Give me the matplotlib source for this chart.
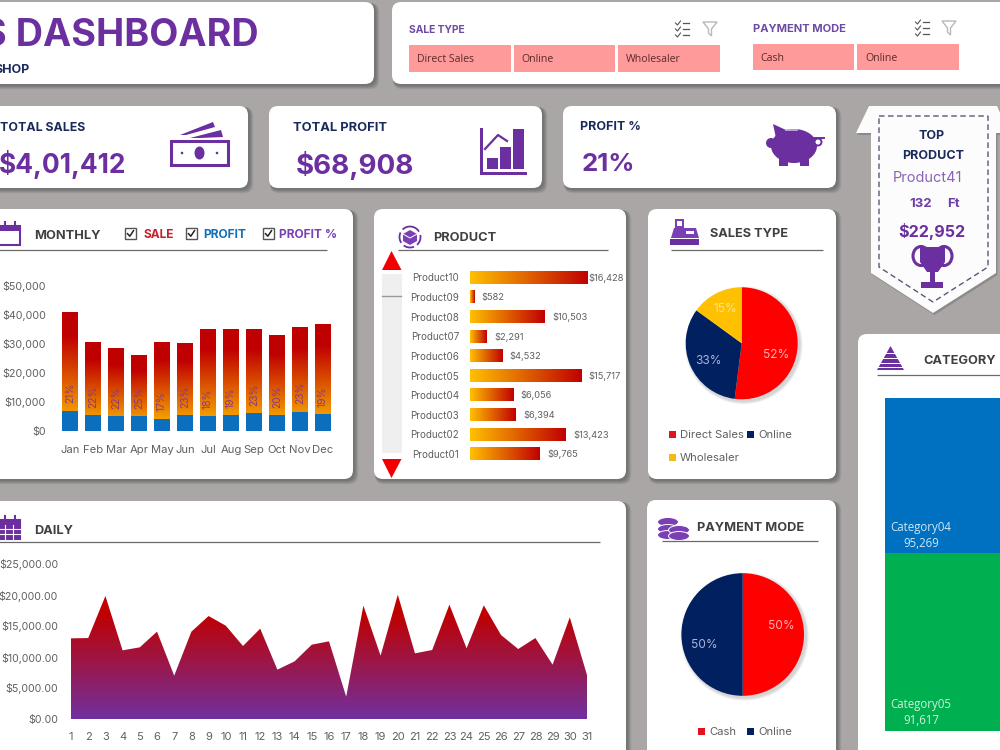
import numpy as np
import matplotlib
matplotlib.use('Agg')
import matplotlib.pyplot as plt
from matplotlib.colors import LinearSegmentedColormap
from matplotlib.patches import Circle, Ellipse, FancyBboxPatch, PathPatch, Polygon, Rectangle

# monthly sales, profit and margin
months = ['Jan', 'Feb', 'Mar', 'Apr', 'May', 'Jun', 'Jul', 'Aug', 'Sep', 'Oct', 'Nov', 'Dec']
monthly_sale = [41000, 30450, 28300, 26200, 30450, 30100, 34900, 35050, 34900, 33100, 35750, 36800]
monthly_profit = [6900, 5300, 4950, 5050, 4150, 5400, 5050, 5300, 6000, 5400, 6550, 5650]
monthly_pct = [21, 22, 22, 25, 17, 23, 18, 19, 23, 20, 23, 19]

products = ['Product10', 'Product09', 'Product08', 'Product07', 'Product06',
            'Product05', 'Product04', 'Product03', 'Product02', 'Product01']
product_sales = [16428, 582, 10503, 2291, 4532, 15717, 6056, 6394, 13423, 9765]

daily_sales = [13010, 13060, 19840, 11075, 11560, 14090, 6990, 14090, 16610, 15050, 11775,
               14570, 7960, 9300, 11990, 12530, 3600, 18280, 10215, 20050, 10590, 11130,
               18440, 11400, 18330, 13550, 11290, 13060, 8760, 16400, 7100]

sale_types = ['Direct Sales', 'Online', 'Wholesaler']
sale_type_pct = [52, 33, 15]
pay_modes = ['Cash', 'Online']
pay_mode_pct = [50, 50]

categories = ['Category04', 'Category05']
category_sales = [95269, 91617]

BG = '#A9A6A5'
PURPLE = '#6B2F9F'
NAVY = '#1B2A5C'
HEAD = '#404040'
TICK = '#606060'
RED = '#FF0000'
DARK_BLUE = '#002060'
AMBER = '#FFC000'
FONT = 'Inter'
BODY = 'Open Sans'

fig = plt.figure(figsize=(10, 7.5), dpi=100, facecolor=BG)


def px_axes(left, top, right, bottom, zorder=1):
    ax = fig.add_axes([left / 1000, 1 - bottom / 750, (right - left) / 1000, (bottom - top) / 750],
                      zorder=zorder)
    ax.patch.set_alpha(0)
    return ax


base = px_axes(0, 0, 1000, 750, zorder=0)
over = px_axes(0, 0, 1000, 750, zorder=10)
for a in (base, over):
    a.set_xlim(0, 1000)
    a.set_ylim(750, 0)
    a.axis('off')


def card(x0, y0, x1, y1, r=9):
    # soft shadow first, falling down and to the right
    for i in range(6, 0, -1):
        base.add_patch(FancyBboxPatch((x0 + 1, y0 + 1), x1 - x0 + i * 0.7, y1 - y0 + i * 0.7,
                                      boxstyle='round,pad=0,rounding_size=%s' % r,
                                      fc='#3a3a3a', ec='none', alpha=0.09))
    base.add_patch(FancyBboxPatch((x0, y0), x1 - x0, y1 - y0,
                                  boxstyle='round,pad=0,rounding_size=%s' % r, fc='white', ec='none'))


def label(x, y, s, size=9, color=HEAD, weight='normal', ha='left', family=FONT, **kw):
    # va center leaves room for descenders, so nudge caps back onto y
    return over.text(x, y + size * 0.15, s, fontsize=size, color=color, fontweight=weight, ha=ha,
                     va='center', family=family, **kw)


def rule(x0, x1, y):
    over.plot([x0, x1], [y, y], color='#6a6a6a', lw=0.9, solid_capstyle='butt')


def gradient_rect(ax, x0, x1, y0, y1, cmap, vertical=True):
    g = np.linspace(0, 1, 256)
    g = g.reshape(-1, 1) if vertical else g.reshape(1, -1)
    return ax.imshow(g, extent=(x0, x1, y0, y1), origin='lower', aspect='auto', cmap=cmap,
                     vmin=0, vmax=1, zorder=2)


def rect(x0, y0, x1, y1, color=PURPLE, **kw):
    over.add_patch(Rectangle((x0, y0), x1 - x0, y1 - y0, fc=color, ec=kw.pop('ec', 'none'), **kw))


def poly(pts, color=PURPLE, **kw):
    over.add_patch(Polygon(pts, closed=True, fc=color, ec='none', **kw))


def money_icon():
    over.add_patch(Rectangle((171, 141), 57, 24, fc='white', ec=PURPLE, lw=2.2))
    over.add_patch(Ellipse((199.5, 153), 10, 13, fc=PURPLE, ec='none'))
    over.add_patch(Circle((182, 153), 1.3, fc=PURPLE))
    over.add_patch(Circle((217, 153), 1.3, fc=PURPLE))
    poly([(180, 135), (213, 122), (215, 127), (186, 135)])
    poly([(190, 138), (221, 130), (223, 137), (200, 138)])


def chart_icon():
    rect(480, 128, 483, 175)
    rect(480, 172, 527, 175)
    for x0, top in [(487, 158), (500, 147), (513, 129)]:
        rect(x0, top, x0 + 11, 169)
    over.plot([485, 498, 507], [149, 135, 141], color=PURPLE, lw=1.6)


def piggy_icon():
    over.add_patch(Ellipse((794, 146), 46, 34, fc=PURPLE))
    poly([(773, 124), (786, 130), (776, 138)])
    over.add_patch(Circle((771, 143), 5, fc=PURPLE))
    rect(779, 156, 788, 166, PURPLE)
    rect(800, 156, 809, 166, PURPLE)
    over.add_patch(Circle((818, 142), 3.5, fc='white', ec=PURPLE, lw=1.4))
    over.plot([812, 824], [138, 138], color=PURPLE, lw=1.4)
    over.plot([786, 797], [129.5, 129.5], color='#C9B4E0', lw=1.2)


def calendar_icon(y0, grid=False):
    over.add_patch(Rectangle((-3, y0 + 4), 23, 19, fc='white', ec=PURPLE, lw=1.5))
    rect(-3, y0 + 3, 20, y0 + 9)
    over.plot([5, 5], [y0, y0 + 5], color=PURPLE, lw=1.5)
    over.plot([15, 15], [y0, y0 + 5], color=PURPLE, lw=1.5)
    if grid:
        rect(-3, y0 + 9, 20, y0 + 23)
        for y in (y0 + 13, y0 + 18):
            over.plot([-3, 20], [y, y], color='white', lw=0.8)
        for x in (5, 13):
            over.plot([x, x], [y0 + 9, y0 + 23], color='white', lw=0.8)


def product_icon():
    over.add_patch(Circle((410, 237), 10.5, fc='none', ec=PURPLE, lw=1.3, ls=(0, (6, 2))))
    poly([(410, 230), (417, 234), (417, 241), (410, 245), (403, 241), (403, 234)], '#7B3FB5')
    over.plot([403, 410, 417], [234, 238, 234], color='white', lw=0.7)


def register_icon():
    rect(675, 219, 684, 231, '#7B3FB5')
    rect(677, 221, 682, 226, 'white')
    poly([(671, 238), (674, 228), (696, 228), (699, 238)], '#7B3FB5')
    rect(686, 231, 694, 234, 'white')
    rect(670, 239, 699, 245, PURPLE)


def coins_icon():
    for cx, cy in [(668, 522), (668, 529), (668, 535), (679, 530), (679, 536)]:
        over.add_patch(Ellipse((cx, cy), 21, 9, fc='#7B3FB5', ec='white', lw=0.7))


def pyramid_icon():
    poly([(890.5, 346), (904, 370), (877, 370)])
    for y in (353, 358, 363, 367):
        rect(875, y, 906, y + 1.4, 'white')


def trophy_icon():
    over.add_patch(Ellipse((921, 256), 16, 19, fc='none', ec=PURPLE, lw=2.2))
    over.add_patch(Ellipse((944, 256), 16, 19, fc='none', ec=PURPLE, lw=2.2))
    poly([(920, 247), (945, 247), (945, 262), (938, 272), (927, 272), (920, 262)])
    rect(930, 272, 935, 282)
    rect(921, 282, 943, 288)


def checklist_icon(x, y):
    for dy in (-6, 0, 6):
        over.plot([x - 6, x - 4, x - 1], [y + dy, y + dy + 2, y + dy - 2], color='#555555', lw=0.8)
        over.plot([x + 1, x + 7], [y + dy, y + dy], color='#555555', lw=0.9)


def funnel_icon(x, y):
    over.add_patch(Polygon([(x - 7, y - 6), (x + 7, y - 6), (x + 1.5, y + 1), (x + 1.5, y + 8),
                            (x - 1.5, y + 5), (x - 1.5, y + 1)], closed=True, fc='none',
                           ec='#B8B8B8', lw=1.0))


def checkbox(x0, y):
    over.add_patch(Rectangle((x0, y - 5.5), 11, 11, fc='white', ec='#555555', lw=1))
    over.plot([x0 + 2.5, x0 + 4.8, x0 + 8.5], [y, y + 2.5, y - 3], color='#222222', lw=1.1)


# ----- card layout
for c in [(-30, 2, 374, 84), (392, 2, 1030, 84), (-30, 106, 248, 188), (269, 106, 542, 188),
          (563, 106, 836, 188), (-30, 209, 353, 479), (374, 209, 626, 479), (648, 209, 836, 479),
          (-30, 501, 626, 790), (647, 500, 836, 790), (858, 334, 1030, 790)]:
    card(*c)

# ribbon behind the top product text
ribbon = [(856, 133), (869, 106), (997, 106), (1010, 133), (996, 133), (996, 273),
          (933, 313), (871, 273), (871, 133)]
base.add_patch(Polygon([(x + 1.5, y + 2) for x, y in ribbon], closed=True, fc='#3a3a3a', ec='none', alpha=0.25))
base.add_patch(Polygon(ribbon, closed=True, fc='#FCFCFC', ec='none'))
over.add_patch(Polygon([(879, 116), (988, 116), (988, 267), (933, 302), (879, 267)], closed=True,
                       fc='none', ec='#5E5578', lw=1.0, ls=(0, (4, 2.5))))

# ----- title and slicers
label(259, 32, 'S DASHBOARD', 27.2, PURPLE, 'bold', ha='right')
label(29.5, 69, 'SHOP', 9, NAVY, 'bold', ha='right')

label(409, 29, 'SALE TYPE', 7.4, '#6D4BA3', 'bold')
label(753, 27.5, 'PAYMENT MODE', 8, '#6D4BA3', 'bold')
for txt, x0, x1 in zip(sale_types, (409, 513.7, 617.7), (510.7, 615, 719.7)):
    rect(x0, 45, x1, 71.7, '#FF9A9A')
    label(x0 + 8, 58.5, txt, 7.6, '#5B2A2A', family=BODY)
for txt, x0, x1 in zip(pay_modes, (752.7, 857.3), (854.3, 959.3)):
    rect(x0, 43.7, x1, 70.3, '#FF9A9A')
    label(x0 + 8, 57, txt, 7.6, '#5B2A2A', family=BODY)
checklist_icon(681.5, 29)
funnel_icon(710, 28)
checklist_icon(921.5, 28)
funnel_icon(949, 27)

# ----- KPI cards
label(0.5, 127, 'TOTAL SALES', 8.9, NAVY, 'bold')
label(126.5, 162, '$4,01,412', 19, PURPLE, 'bold', ha='right')
label(293, 127, 'TOTAL PROFIT', 9.3, NAVY, 'bold')
label(296, 162, '$68,908', 20, PURPLE, 'bold')
label(580, 126, 'PROFIT %', 9, NAVY, 'bold')
label(582, 162, '21%', 18.6, PURPLE, 'bold')
money_icon()
chart_icon()
piggy_icon()

# ----- top product ribbon
label(932, 135, 'TOP', 9, NAVY, 'bold', ha='center')
label(933, 155, 'PRODUCT', 9, NAVY, 'bold', ha='center')
label(893, 176, 'Product41', 10.5, '#8E62B8')
label(921, 203, '132', 9.5, '#6D3FA5', 'bold', ha='center')
label(953, 203, 'Ft', 9.5, '#6D3FA5', 'bold', ha='center')
label(932, 230, '$22,952', 11.6, PURPLE, 'bold', ha='center')
trophy_icon()

# ----- monthly chart: profit sits in front of a full-height sale bar
calendar_icon(222)
label(34, 235, 'MONTHLY', 9.2, HEAD, 'bold')
rule(-5, 327, 250.3)
checkbox(125, 233.7)
label(143, 233.5, 'SALE', 8.6, '#C8202A', 'bold')
checkbox(186, 233.7)
label(203, 233.5, 'PROFIT', 8.6, '#1070B8', 'bold')
checkbox(263, 233.7)
label(279, 233.5, 'PROFIT %', 8.6, '#7B3FB5', 'bold')

sale_cmap = LinearSegmentedColormap.from_list('sale', [(0, '#FFC000'), (0.8, '#C00000'), (1, '#C00000')])
ax = px_axes(58.5, 285.7, 334.5, 430.7, zorder=2)
pos = np.arange(len(months))
bw = 0.667
for i, (s, p) in enumerate(zip(monthly_sale, monthly_profit)):
    gradient_rect(ax, i - bw / 2, i + bw / 2, 0, s, sale_cmap)
ax.bar(pos, monthly_profit, bw, color='#0B6FBE', zorder=3)
for i, (p, pct) in enumerate(zip(monthly_profit, monthly_pct)):
    ax.text(i, p + 2500, '%d%%' % pct, rotation=90, ha='center', va='bottom', fontsize=7.4,
            color='#8A3A80', family=FONT, zorder=4)
ax.set_xlim(-0.5, 11.5)
ax.set_ylim(0, 50000)
ax.set_yticks(range(0, 50001, 10000))
ax.set_yticklabels(['$%s' % format(v, ',') for v in range(0, 50001, 10000)])
ax.set_xticks(pos)
ax.set_xticklabels(months)
ax.tick_params(length=0, labelsize=8.1, labelcolor=TICK)
ax.tick_params(axis='x', pad=10)
ax.tick_params(axis='y', pad=9.2, labelsize=7.7)
for t in ax.get_xticklabels() + ax.get_yticklabels():
    t.set_family(FONT)
for s in ax.spines.values():
    s.set_visible(False)

# ----- product chart
product_icon()
label(433, 237, 'PRODUCT', 9.2, HEAD, 'bold')
rule(398, 608, 250.3)
rect(381.7, 274, 401.7, 453, '#EFEFEF')
over.plot([381.7, 401], [296, 296], color='#9a9a9a', lw=1)
poly([(391.5, 251), (401.5, 270), (382, 270)], '#F00000')
poly([(391.5, 478), (401.5, 459), (382, 459)], '#F00000')

prod_cmap = LinearSegmentedColormap.from_list('prod', ['#FFC000', '#C00000'])
ax = px_axes(470.3, 267.5, 612.8, 463.9, zorder=2)
for i, v in enumerate(product_sales):
    im = gradient_rect(ax, 0, v, i - 0.32, i + 0.32, prod_cmap, vertical=False)
    ax.text(min(v + 1030, 16428 + 100), i + 0.03, '$%s' % format(v, ','), va='center', ha='left',
            fontsize=6.7, color=TICK, family=FONT)
ax.set_xlim(0, 20000)
ax.set_ylim(len(products) - 0.5, -0.5)
ax.set_xticks([])
ax.set_yticks(range(len(products)))
ax.set_yticklabels(products)
ax.tick_params(length=0, labelsize=7.1, labelcolor=TICK, pad=8)
for t in ax.get_yticklabels():
    t.set_family(FONT)
for s in ax.spines.values():
    s.set_visible(False)


# ----- pies
def pie(cx, cy, r, values, colors):
    for i in range(6, 0, -1):
        base.add_patch(Circle((cx + 2, cy + 2), r + i * 0.5, fc='#333333', ec='none', alpha=0.035))
    a = px_axes(cx - r, cy - r, cx + r, cy + r, zorder=2)
    a.pie(values, colors=colors, startangle=90, counterclock=False, radius=1)
    a.set_xlim(-1, 1)
    a.set_ylim(-1, 1)
    return a


register_icon()
label(710, 233, 'SALES TYPE', 9.2, HEAD, 'bold')
rule(671, 823, 250.3)
pie(741.7, 343.3, 56, sale_type_pct, [RED, DARK_BLUE, AMBER])
for (x, y), v, c in zip([(776, 354), (708, 359.5), (725, 307.5)], sale_type_pct, ['#FFB0B0', '#A8B4D8', '#FFE38A']):
    label(x, y, '%d%%' % v, 8.6, c, ha='center')
for (x, y), name, c in zip([(672.7, 434), (750.7, 434), (672.7, 457)], sale_types, ['#E0141E', DARK_BLUE, '#F5B91C']):
    rect(x - 3.5, y - 3.5, x + 3.5, y + 3.5, c)
    label(x + 7.5, y - 0.5, name, 8.1, TICK)

coins_icon()
label(697, 527, 'PAYMENT MODE', 9.2, HEAD, 'bold')
rule(662, 818, 541.3)
pie(742.7, 634.5, 61.3, pay_mode_pct, [RED, DARK_BLUE])
for (x, y), v, c in zip([(781, 625), (704, 644)], pay_mode_pct, ['#FFB0B0', '#A8B4D8']):
    label(x, y, '%d%%' % v, 8.6, c, ha='center')
for (x, y), name, c in zip([(701.7, 731), (750.7, 731)], pay_modes, ['#E0141E', DARK_BLUE]):
    rect(x - 3.5, y - 3.5, x + 3.5, y + 3.5, c)
    label(x + 7.5, y - 0.5, name, 8.1, TICK)

# ----- category treemap, each block's area follows its value and runs past the card edge
pyramid_icon()
label(923, 360, 'CATEGORY', 9.2, HEAD, 'bold')
rule(877, 1005, 375.3)
tops = [397.7, 553.3]
bottoms = [553.3, 731]
for name, v, t, b, c, tc, vy in zip(categories, category_sales, tops, bottoms,
                                    ['#0070C0', '#00B050'], ['#CFE6F7', '#CFF2DC'], [526.7, 703.3]):
    over.add_patch(Rectangle((885.3, t), v / (b - t), b - t, fc=c, ec='none', clip_on=True))
    label(890.7, vy, name, 8.3, tc, family=BODY)
    label(921, vy + 15.7, format(v, ','), 8.3, tc, ha='center', family=BODY)

# ----- daily area
calendar_icon(516, grid=True)
label(34, 530, 'DAILY', 9.2, HEAD, 'bold')
rule(-5, 600, 541.7)

daily_cmap = LinearSegmentedColormap.from_list(
    'daily', [(0, '#7030A0'), (0.5, '#A0143F'), (0.85, '#C00000'), (1, '#C80000')])
days = np.arange(1, len(daily_sales) + 1)
ax = px_axes(71, 564, 587, 719, zorder=2)
area = ax.fill_between(days, 0, daily_sales, color='none')
im = gradient_rect(ax, 1, 31, 0, max(daily_sales), daily_cmap)
clip = PathPatch(area.get_paths()[0], transform=ax.transData, fc='none', ec='none')
ax.add_patch(clip)
im.set_clip_path(clip)
ax.set_xlim(1, 31)
ax.set_ylim(0, 25000)
ax.set_xticks(days)
ax.set_yticks(range(0, 25001, 5000))
ax.set_yticklabels(['$%s.00' % format(v, ',') for v in range(0, 25001, 5000)])
ax.tick_params(length=0, labelsize=8, labelcolor=TICK)
ax.tick_params(axis='x', pad=9.5)
ax.tick_params(axis='y', pad=9.4, labelsize=7.6)
for t in ax.get_xticklabels() + ax.get_yticklabels():
    t.set_family(FONT)
for s in ax.spines.values():
    s.set_visible(False)

fig.savefig('out.png', dpi=100, facecolor=BG)
